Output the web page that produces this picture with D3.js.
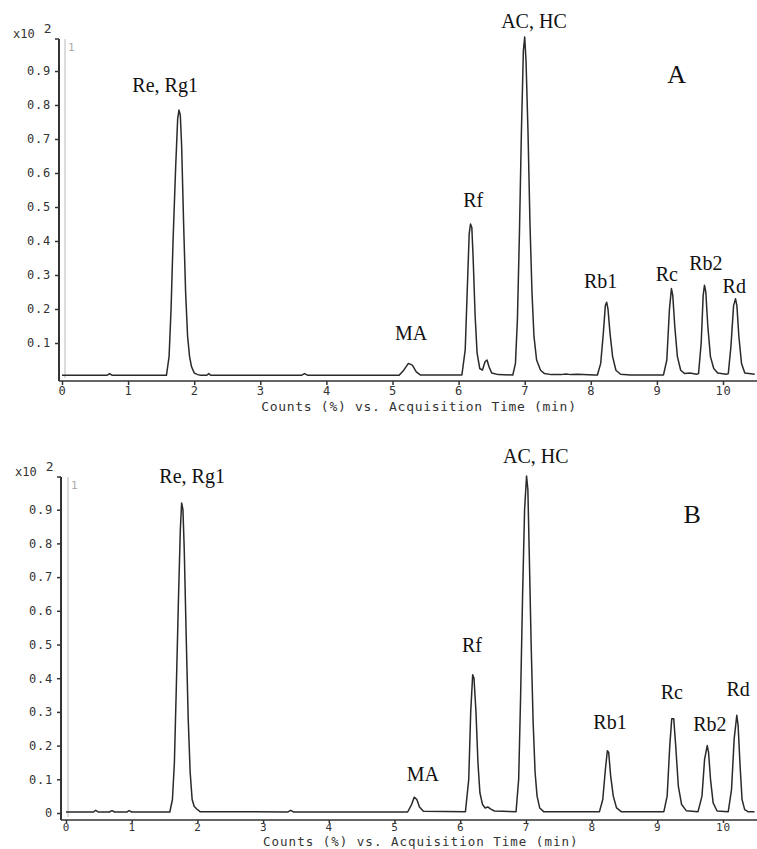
<!DOCTYPE html>
<html>
<head>
<meta charset="utf-8">
<script src="https://cdn.jsdelivr.net/npm/d3@7"></script>
<style>
  body { margin: 0; background: #fff; }
  .tick text { font-family: "DejaVu Sans Mono", monospace; font-size: 12px; fill: #333; letter-spacing: 0.8px; }
</style>
</head>
<body>
<div id="chart"></div>
<script>
const timeA = [0, 0.68, 0.72, 0.76, 1.58, 1.62, 1.65, 1.68, 1.72, 1.75, 1.77, 1.79, 1.81, 1.84, 1.87, 1.90, 1.93, 1.96, 2.00, 2.05,
  2.10, 2.19, 2.22, 2.25, 3.62, 3.67, 3.72, 5.10, 5.17, 5.24, 5.30, 5.36, 5.42, 6.05, 6.10, 6.13, 6.16, 6.18, 6.20, 6.22,
  6.25, 6.28, 6.32, 6.36, 6.40, 6.43, 6.46, 6.50, 6.60, 6.82, 6.86, 6.89, 6.92, 6.95, 6.98, 7.00, 7.02, 7.05, 7.08, 7.11,
  7.14, 7.18, 7.24, 7.30, 7.40, 7.55, 7.62, 7.70, 7.80, 8.05, 8.10, 8.15, 8.19, 8.22, 8.24, 8.26, 8.29, 8.33, 8.38, 8.45,
  8.60, 9.10, 9.15, 9.19, 9.22, 9.24, 9.27, 9.31, 9.36, 9.42, 9.50, 9.60, 9.63, 9.67, 9.70, 9.72, 9.74, 9.77, 9.81, 9.86,
  9.92, 10.05, 10.08, 10.12, 10.16, 10.19, 10.21, 10.24, 10.28, 10.33, 10.48];
const countA = [0.005, 0.005, 0.010, 0.005, 0.005, 0.06, 0.20, 0.40, 0.62, 0.76, 0.785, 0.77, 0.68, 0.45, 0.25, 0.12, 0.06, 0.03, 0.012, 0.007,
  0.005, 0.005, 0.010, 0.005, 0.005, 0.010, 0.005, 0.005, 0.020, 0.040, 0.035, 0.015, 0.006, 0.006, 0.08, 0.25, 0.42, 0.45, 0.44, 0.35,
  0.18, 0.07, 0.025, 0.020, 0.045, 0.050, 0.030, 0.012, 0.007, 0.006, 0.04, 0.17, 0.42, 0.72, 0.96, 1.0, 0.93, 0.72, 0.45, 0.25,
  0.12, 0.05, 0.02, 0.010, 0.007, 0.007, 0.009, 0.007, 0.008, 0.006, 0.006, 0.04, 0.13, 0.21, 0.22, 0.20, 0.13, 0.06, 0.02, 0.008,
  0.006, 0.006, 0.05, 0.20, 0.26, 0.24, 0.15, 0.06, 0.02, 0.010, 0.012, 0.008, 0.010, 0.10, 0.24, 0.27, 0.25, 0.15, 0.06, 0.025,
  0.012, 0.008, 0.010, 0.09, 0.21, 0.23, 0.21, 0.12, 0.04, 0.012, 0.008];

// trace B
const timeB = [0, 0.42, 0.45, 0.49, 0.66, 0.70, 0.74, 0.93, 0.96, 1.00, 1.58, 1.62, 1.65, 1.68, 1.71, 1.74, 1.76, 1.78, 1.80, 1.83,
  1.86, 1.89, 1.92, 1.95, 1.99, 2.04, 3.38, 3.42, 3.46, 5.20, 5.26, 5.30, 5.34, 5.38, 5.44, 6.08, 6.13, 6.16, 6.19, 6.21,
  6.24, 6.27, 6.30, 6.34, 6.38, 6.42, 6.46, 6.52, 6.85, 6.89, 6.92, 6.95, 6.98, 7.01, 7.03, 7.05, 7.08, 7.11, 7.14, 7.17,
  7.21, 7.27, 7.36, 8.12, 8.17, 8.21, 8.24, 8.26, 8.29, 8.33, 8.38, 8.45, 9.10, 9.15, 9.19, 9.22, 9.25, 9.28, 9.32, 9.37,
  9.44, 9.62, 9.68, 9.72, 9.76, 9.78, 9.81, 9.85, 9.91, 10.08, 10.13, 10.17, 10.21, 10.23, 10.26, 10.29, 10.33, 10.38, 10.48];
const countB = [0.003, 0.003, 0.008, 0.003, 0.003, 0.007, 0.003, 0.003, 0.007, 0.003, 0.003, 0.04, 0.15, 0.38, 0.62, 0.84, 0.92, 0.90, 0.78, 0.52,
  0.28, 0.12, 0.04, 0.02, 0.012, 0.004, 0.003, 0.008, 0.003, 0.003, 0.025, 0.047, 0.040, 0.018, 0.005, 0.004, 0.10, 0.30, 0.41, 0.40,
  0.30, 0.15, 0.06, 0.025, 0.015, 0.018, 0.012, 0.006, 0.004, 0.10, 0.35, 0.65, 0.90, 1.0, 0.96, 0.78, 0.50, 0.27, 0.12, 0.05,
  0.015, 0.004, 0.004, 0.004, 0.04, 0.13, 0.185, 0.18, 0.11, 0.05, 0.015, 0.004, 0.004, 0.05, 0.20, 0.28, 0.28, 0.20, 0.08, 0.025,
  0.007, 0.004, 0.05, 0.16, 0.20, 0.18, 0.10, 0.03, 0.006, 0.004, 0.07, 0.22, 0.29, 0.26, 0.14, 0.04, 0.01, 0.004, 0.004];

// peak labels, anchored in data units (time, counts)
const peakNames = ["Re, Rg1", "MA", "Rf", "AC, HC", "Rb1", "Rc", "Rb2", "Rd"];
const labelTimeA = [1.56, 5.28, 6.22, 7.14, 8.15, 9.15, 9.74, 10.17];
const labelLevelA = [0.838, 0.109, 0.50, 1.026, 0.262, 0.282, 0.315, 0.247];
const labelTimeB = [1.92, 5.43, 6.18, 7.15, 8.28, 9.22, 9.80, 10.23];
const labelLevelB = [0.979, 0.095, 0.478, 1.039, 0.249, 0.338, 0.243, 0.347];

const xTicks = d3.range(0, 11);
const yTicksA = [0.1, 0.2, 0.3, 0.4, 0.5, 0.6, 0.7, 0.8, 0.9];
const yTicksB = [0, 0.1, 0.2, 0.3, 0.4, 0.5, 0.6, 0.7, 0.8, 0.9];
const xTitle = "Counts (%) vs. Acquisition Time (min)";

const width = 757, height = 849;
const svg = d3.select("#chart").append("svg")
  .attr("width", width)
  .attr("height", height);

const panels = [
  { name: "A", time: timeA, count: countA, lt: labelTimeA, ll: labelLevelA, yTicks: yTicksA,
    axisLeft: 59, axisBottom: 381, axisTop: 39, y0: 377, y1: 37, x0: 62, x10: 723, grey: 65,
    letter: [9.30, 0.865], titleY: 411, tickFont: 12, tickLen: 4, titleFont: 13 },
  { name: "B", time: timeB, count: countB, lt: labelTimeB, ll: labelLevelB, yTicks: yTicksB,
    axisLeft: 61, axisBottom: 820, axisTop: 477, y0: 813, y1: 476, x0: 66, x10: 723, grey: 68,
    letter: [9.53, 0.86], titleY: 846, tickFont: 11, tickLen: 3, titleFont: 12.5 }
];

panels.forEach(p => {
  const x = d3.scaleLinear().domain([0, 10]).range([p.x0, p.x10]);
  const y = d3.scaleLinear().domain([0, 1]).range([p.y0, p.y1]);
  const g = svg.append("g");

  // grey inner frame line with "1"
  g.append("line")
    .attr("x1", p.grey).attr("x2", p.grey)
    .attr("y1", p.axisTop).attr("y2", p.axisBottom - 3)
    .attr("stroke", "#b8b8b8").attr("stroke-width", 1);
  g.append("text")
    .attr("x", p.grey + 3).attr("y", p.axisTop + 12)
    .style("font-family", "DejaVu Sans Mono, monospace")
    .style("font-size", "11px")
    .attr("fill", "#aaa")
    .text("1");

  // y axis
  const yAxis = d3.axisLeft(y)
    .tickValues(p.yTicks)
    .tickSize(4)
    .tickPadding(4)
    .tickFormat(d => d === 0 ? "0" : d.toFixed(1));
  const ya = g.append("g")
    .attr("transform", `translate(${p.axisLeft},0)`)
    .call(yAxis);
  ya.select(".domain").remove();
  ya.selectAll(".tick line").attr("stroke", "#333").attr("stroke-width", 1.5);
  g.append("line")
    .attr("x1", p.axisLeft).attr("x2", p.axisLeft)
    .attr("y1", p.axisTop).attr("y2", p.axisBottom)
    .attr("stroke", "#333").attr("stroke-width", 2);
  g.append("line")
    .attr("x1", p.axisLeft - 4).attr("x2", p.axisLeft)
    .attr("y1", p.axisTop).attr("y2", p.axisTop)
    .attr("stroke", "#333").attr("stroke-width", 1.5);

  // x10 2 exponent label
  const ex = g.append("text")
    .attr("x", p.axisLeft - 46).attr("y", p.axisTop - 1)
    .style("font-family", "DejaVu Sans Mono, monospace")
    .style("font-size", "12px")
    .attr("fill", "#333");
  ex.append("tspan").text("x10");
  ex.append("tspan").attr("dx", 9).attr("dy", -5).style("font-size", "13px").text("2");

  // x axis
  const xAxis = d3.axisBottom(x)
    .tickValues(xTicks)
    .tickSize(p.tickLen)
    .tickPadding(p.tickLen === 4 ? 1 : 0)
    .tickFormat(d3.format("d"));
  const xa = g.append("g")
    .attr("transform", `translate(0,${p.axisBottom})`)
    .call(xAxis);
  xa.select(".domain").remove();
  xa.selectAll(".tick line").attr("stroke", "#333").attr("stroke-width", 1.5);
  xa.selectAll(".tick text").style("font-size", p.tickFont + "px");
  g.append("line")
    .attr("x1", p.axisLeft).attr("x2", width)
    .attr("y1", p.axisBottom).attr("y2", p.axisBottom)
    .attr("stroke", "#333").attr("stroke-width", 1.5);

  g.append("text")
    .attr("x", x(5.4)).attr("y", p.titleY)
    .attr("text-anchor", "middle")
    .style("font-family", "DejaVu Sans Mono, monospace")
    .style("font-size", p.titleFont + "px")
    .style("letter-spacing", p.titleFont === 13 ? "0.7px" : "1px")
    .attr("fill", "#333")
    .text(xTitle);

  // trace
  const pts = p.time.map((t, i) => [t, p.count[i]]);
  g.append("path")
    .datum(pts)
    .attr("fill", "none")
    .attr("stroke", "#2a2a2a")
    .attr("stroke-width", 1.5)
    .attr("stroke-linejoin", "round")
    .attr("d", d3.line().x(d => x(d[0])).y(d => y(d[1])));

  // peak labels
  g.selectAll(".peak")
    .data(peakNames)
    .enter().append("text")
    .attr("class", "peak")
    .attr("x", (d, i) => x(p.lt[i]))
    .attr("y", (d, i) => y(p.ll[i]))
    .attr("text-anchor", "middle")
    .style("font-family", "Liberation Serif, serif")
    .style("font-size", "20px")
    .attr("fill", "#111")
    .text(d => d);

  g.append("text")
    .attr("x", x(p.letter[0])).attr("y", y(p.letter[1]))
    .attr("text-anchor", "middle")
    .style("font-family", "Liberation Serif, serif")
    .style("font-size", "26px")
    .attr("fill", "#111")
    .text(p.name);
});
</script>
</body>
</html>
